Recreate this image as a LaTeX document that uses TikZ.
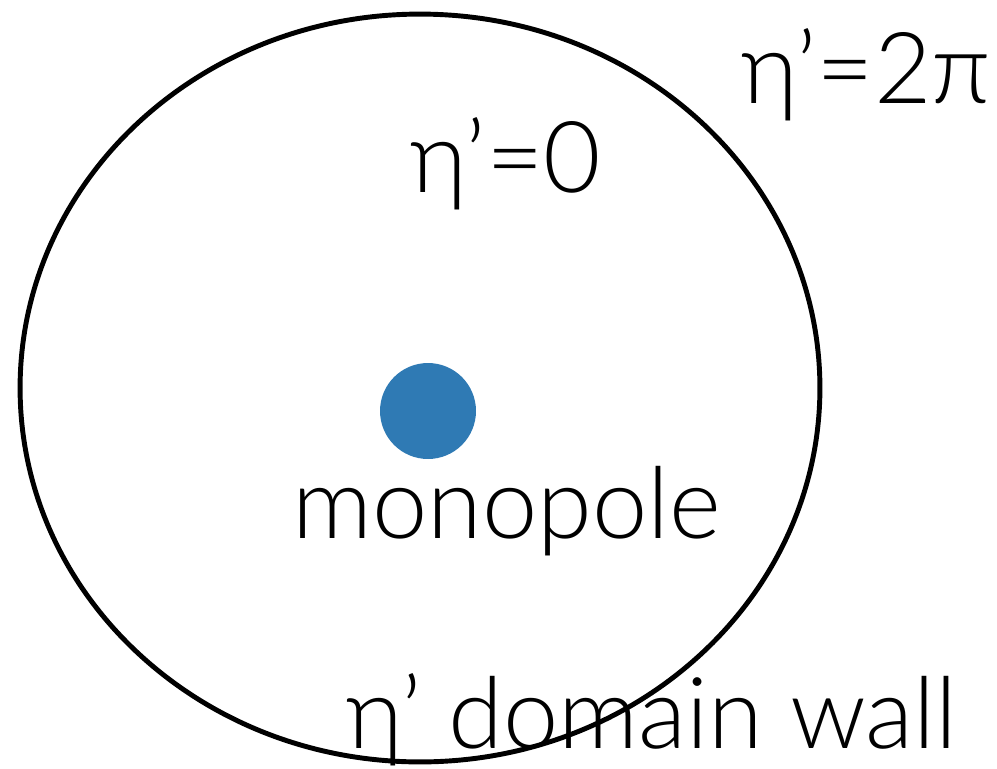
\documentclass[tikz,border=0pt]{standalone}
\usepackage{fontspec}
\setmainfont{Lato}[UprightFont=* Light]
\usetikzlibrary{shapes.geometric}
\definecolor{poleblue}{RGB}{47,122,180}

\begin{document}
\begin{tikzpicture}[x=0.02cm, y=-0.02cm,
  lbl/.style={anchor=base, inner sep=0pt, font=\fontsize{56.5}{62}\selectfont},
  wall/.style={ellipse, draw, line width=2.8pt, minimum width=16cm, minimum height=14.96cm},
  pole/.style={circle, fill=poleblue, inner sep=0pt, minimum size=1.92cm}]
\useasboundingbox (0,0) rectangle (997,768);
\node[wall] (dw) at (420,388) {};
\node[pole] (mp) at (428,411) {};
\node[lbl] (outside) at (866,103) {η’=2π};
\node[lbl] (inside) at (506,192) {η’=0};
\node[lbl] (mplabel) at (507,538) {monopole};
\node[lbl] (dwlabel) at (652,748) {η’ domain wall};
\end{tikzpicture}
\end{document}
